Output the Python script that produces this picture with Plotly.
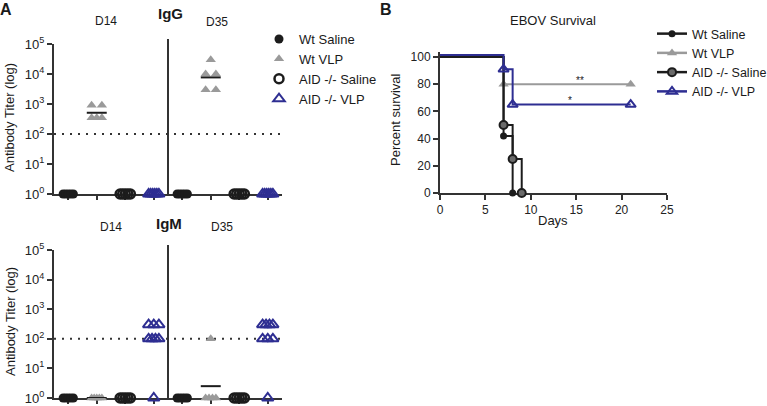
import numpy as np
import plotly.graph_objects as go
from collections import Counter, defaultdict

W, H = 767, 406

# ---------------- data ----------------
groups = ["Wt Saline", "Wt VLP", "AID -/- Saline", "AID -/- VLP"]
timepoints = ["D14", "D35"]

# IgG titers (panel A, top)
igg_d14_wt_saline = [1, 1, 1, 1, 1]
igg_d14_wt_vlp = [900, 900, 350, 350, 350]
igg_d14_aid_saline = [1, 1, 1, 1, 1]
igg_d14_aid_vlp = [1, 1, 1, 1, 1, 1]
igg_d35_wt_saline = [1, 1, 1, 1, 1]
igg_d35_wt_vlp = [30000, 10000, 10000, 3000, 3000]
igg_d35_aid_saline = [1, 1, 1, 1, 1]
igg_d35_aid_vlp = [1, 1, 1, 1, 1, 1]

# IgM titers (panel A, bottom)
igm_d14_wt_saline = [1, 1, 1, 1, 1]
igm_d14_wt_vlp = [1, 1, 1, 1, 1]
igm_d14_aid_saline = [1, 1, 1, 1, 1]
igm_d14_aid_vlp = [300, 300, 300, 100, 100, 100, 100, 1]
igm_d35_wt_saline = [1, 1, 1, 1, 1]
igm_d35_wt_vlp = [100, 1, 1, 1, 1]
igm_d35_aid_saline = [1, 1, 1, 1, 1]
igm_d35_aid_vlp = [300, 300, 300, 300, 100, 100, 100, 1]

detection_limit = 100
titer_ticks = [1, 10, 100, 1000, 10000, 100000]
titer_ticktext = ["10<sup>0</sup>", "10<sup>1</sup>", "10<sup>2</sup>",
                  "10<sup>3</sup>", "10<sup>4</sup>", "10<sup>5</sup>"]

# EBOV survival (panel B)
wt_saline_days = [0, 7, 8]
wt_saline_surv = [100, 42, 0]
wt_vlp_days = [0, 7, 21]
wt_vlp_surv = [100, 80, 80]
aid_saline_days = [0, 7, 8, 9]
aid_saline_surv = [100, 50, 25, 0]
aid_vlp_days = [0, 7, 8, 21]
aid_vlp_surv = [101.5, 91, 65, 65]
day_ticks = [0, 5, 10, 15, 20, 25]
surv_ticks = [0, 20, 40, 60, 80, 100]

# ---------------- styles ----------------
FONT = "Liberation Sans, Arial, sans-serif"
BLACK = "#1c1c1c"
GRAY = "#9a9a9a"
BLUE = "#2e2e92"
AX = "#333333"

mstyle = {
    "Wt Saline": dict(symbol="circle", color=BLACK, size=9),
    "Wt VLP": dict(symbol="triangle-up", color=GRAY, size=9),
    "AID -/- Saline": dict(symbol="circle-open", color=BLACK, size=9, line=dict(width=2.5)),
    "AID -/- VLP": dict(symbol="triangle-up-open", color=BLUE, size=10, line=dict(width=2)),
}


def px_x(p):
    return p / W


def px_y(p):
    return 1 - p / H


def beeswarm(vals, center, half=0.18):
    counts = Counter(vals)
    seen = defaultdict(int)
    xs = []
    for v in vals:
        n = counts[v]
        k = seen[v]
        seen[v] += 1
        off = 0.0 if n == 1 else -half + 2 * half * k / (n - 1)
        xs.append(center + off)
    return xs


def geomean(vals):
    return float(np.exp(np.mean(np.log(vals))))


fig = go.Figure()

panelA = {
    ("x", "y"): {
        "D14": [igg_d14_wt_saline, igg_d14_wt_vlp, igg_d14_aid_saline, igg_d14_aid_vlp],
        "D35": [igg_d35_wt_saline, igg_d35_wt_vlp, igg_d35_aid_saline, igg_d35_aid_vlp],
    },
    ("x2", "y2"): {
        "D14": [igm_d14_wt_saline, igm_d14_wt_vlp, igm_d14_aid_saline, igm_d14_aid_vlp],
        "D35": [igm_d35_wt_saline, igm_d35_wt_vlp, igm_d35_aid_saline, igm_d35_aid_vlp],
    },
}

for (xa, ya), data in panelA.items():
    # detection limit dotted line
    fig.add_trace(go.Scatter(
        x=[-0.5, 7.5], y=[detection_limit, detection_limit], mode="lines",
        line=dict(color=AX, width=2, dash="2px,6px"), xaxis=xa, yaxis=ya,
        showlegend=False, hoverinfo="skip", cliponaxis=False))
    for t, tp in enumerate(timepoints):
        for i, g in enumerate(groups):
            vals = data[tp][i]
            center = t * 4 + i
            fig.add_trace(go.Scatter(
                x=beeswarm(vals, center), y=vals, mode="markers",
                marker=mstyle[g], xaxis=xa, yaxis=ya, showlegend=False,
                cliponaxis=False, name=g))
            if g == "Wt VLP":
                gm = geomean(vals)
                fig.add_trace(go.Scatter(
                    x=[center - 0.35, center + 0.35], y=[gm, gm], mode="lines",
                    line=dict(color=BLACK, width=2), xaxis=xa, yaxis=ya,
                    showlegend=False, hoverinfo="skip", cliponaxis=False))

# legend-only entries, panel A
for g in groups:
    fig.add_trace(go.Scatter(x=[None], y=[None], mode="markers", marker=mstyle[g],
                             name=g, legend="legend", xaxis="x", yaxis="y"))

# ---------------- panel B ----------------
surv = [
    ("Wt VLP", wt_vlp_days, wt_vlp_surv, dict(symbol="triangle-up", color=GRAY, size=9), GRAY),
    ("Wt Saline", wt_saline_days, wt_saline_surv, dict(symbol="circle", color=BLACK, size=7), BLACK),
    ("AID -/- Saline", aid_saline_days, aid_saline_surv,
     dict(symbol="circle", color="#6a6a6a", size=8, line=dict(color=BLACK, width=2)), BLACK),
    ("AID -/- VLP", aid_vlp_days, aid_vlp_surv,
     dict(symbol="triangle-up-open", color=BLUE, size=9, line=dict(width=2)), BLUE),
]
for name, d, s, mk, lc in surv:
    fig.add_trace(go.Scatter(x=d, y=s, mode="lines", line=dict(color=lc, width=2, shape="hv"),
                             xaxis="x3", yaxis="y3", showlegend=False, cliponaxis=False,
                             hoverinfo="skip"))
    fig.add_trace(go.Scatter(x=d[1:], y=s[1:], mode="markers", marker=mk,
                             xaxis="x3", yaxis="y3", showlegend=False, cliponaxis=False,
                             name=name))

for name, d, s, mk, lc in [surv[1], surv[0], surv[2], surv[3]]:
    fig.add_trace(go.Scatter(x=[None], y=[None], mode="lines+markers", marker=mk,
                             line=dict(color=lc, width=2.5), name=name, legend="legend2",
                             xaxis="x3", yaxis="y3"))

# ---------------- layout ----------------
axis_common = dict(showline=True, linecolor=AX, linewidth=2, showgrid=False, zeroline=False,
                   ticks="outside", tickcolor=AX, tickwidth=2, layer="below traces",
                   automargin=False)

xdomA = [px_x(54), px_x(282)]
xA = dict(axis_common, domain=xdomA, range=[-0.5, 7.5], tickvals=list(range(8)),
          showticklabels=False, ticklen=4)
yA_common = dict(axis_common, type="log", range=[0, 5], tickvals=titer_ticks,
                 ticktext=titer_ticktext, ticklen=5,
                 tickfont=dict(size=13, color="#222", family=FONT))

fig.update_layout(
    width=W, height=H, margin=dict(l=0, r=0, t=0, b=0, autoexpand=False),
    paper_bgcolor="white", plot_bgcolor="white",
    font=dict(family=FONT, size=12, color="#222"),
    xaxis=dict(xA, anchor="y"),
    yaxis=dict(yA_common, domain=[px_y(194), px_y(44)], anchor="x"),
    xaxis2=dict(xA, anchor="y2"),
    yaxis2=dict(yA_common, domain=[px_y(398), px_y(250)], anchor="x2"),
    xaxis3=dict(axis_common, domain=[px_x(440), px_x(667)], range=[0, 25], tickvals=day_ticks,
                ticklen=5, tickfont=dict(size=12, color="#222"), anchor="y3"),
    yaxis3=dict(axis_common, domain=[px_y(193), px_y(51.6)], range=[0, 104], tickvals=surv_ticks,
                ticklen=5, tickfont=dict(size=12, color="#222"), anchor="x3"),
    legend=dict(x=px_x(259), y=px_y(24), xanchor="left", yanchor="top",
                bgcolor="rgba(0,0,0,0)", font=dict(size=13, color="#1a1a1a", family=FONT),
                itemwidth=30, tracegroupgap=0),
    legend2=dict(x=px_x(652), y=px_y(19), xanchor="left", yanchor="top",
                 bgcolor="rgba(0,0,0,0)", font=dict(size=12.5, color="#1a1a1a", family=FONT),
                 itemwidth=30, tracegroupgap=0),
    hovermode=False,
)

# panel dividers between D14 and D35
fig.add_shape(type="line", xref="x", yref="paper", x0=3.5, x1=3.5, y0=px_y(194), y1=px_y(39),
              line=dict(color=AX, width=2), layer="above")
fig.add_shape(type="line", xref="x2", yref="paper", x0=3.5, x1=3.5, y0=px_y(398), y1=px_y(245),
              line=dict(color=AX, width=2), layer="above")


def ann(text, x, y, size=12, bold=False, angle=0, xref="paper", yref="paper"):
    if xref == "paper":
        x = px_x(x)
    if yref == "paper":
        y = px_y(y)
    fig.add_annotation(text=f"<b>{text}</b>" if bold else text, x=x, y=y, xref=xref, yref=yref,
                       xanchor="center", yanchor="middle", showarrow=False, textangle=angle,
                       font=dict(size=size, color="#1a1a1a", family=FONT))


ann("A", 6, 9, 16, True)
ann("B", 386, 9, 16, True)
ann("IgG", 170, 13, 15, True)
ann("D14", 106, 21, 12)
ann("D35", 217, 22, 12)
ann("IgM", 169, 223, 15, True)
ann("D14", 111, 227, 12)
ann("D35", 222, 227, 12)
ann("Antibody Titer (log)", 10, 118, 13, angle=-90)
ann("Antibody Titer (log)", 10, 322, 13, angle=-90)
ann("EBOV Survival", 553, 20, 13)
ann("Percent survival", 395, 120, 13, angle=-90)
ann("Days", 553, 221, 13)
ann("**", 15.4, 83, 10, xref="x3", yref="y3")
ann("*", 14.3, 68, 10, xref="x3", yref="y3")

fig.write_html("out.html", config={"displayModeBar": False},
               post_script="document.body.style.margin='0';document.body.style.overflow='hidden';")
